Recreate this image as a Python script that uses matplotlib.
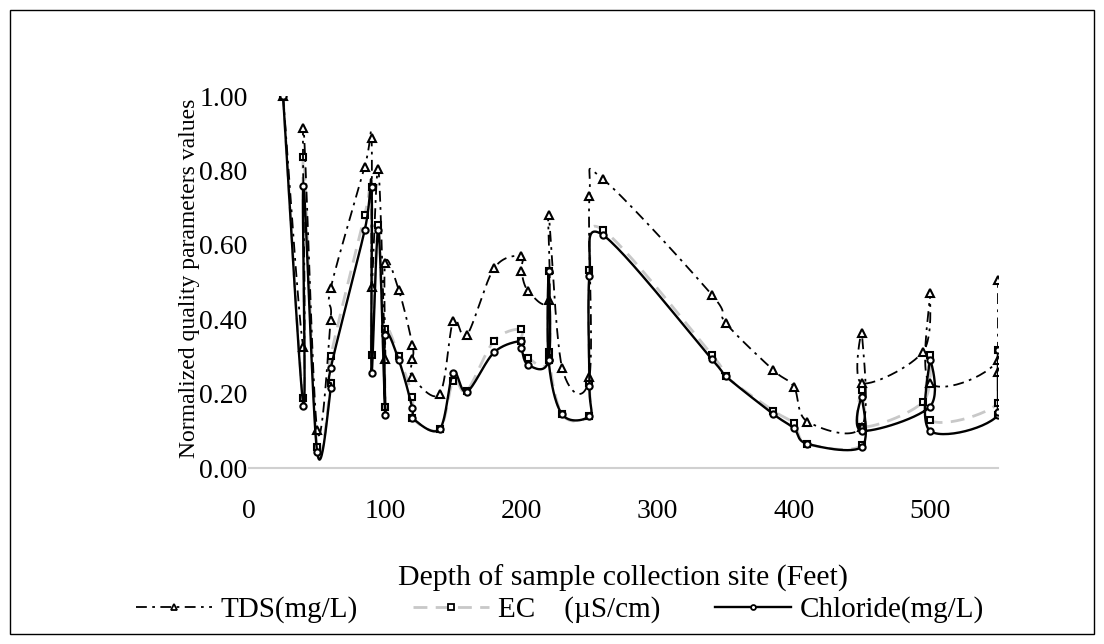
import numpy as np
import matplotlib
matplotlib.use("Agg")
import matplotlib.pyplot as plt
from matplotlib.lines import Line2D
from matplotlib.patches import Rectangle

# ---------------- data ----------------
depth_tds = [25, 40, 40, 50, 60, 60, 85, 90, 90, 95, 100, 100, 110, 120, 120, 120, 140, 150, 160,
             180, 200, 200, 205, 220, 220, 230, 250, 250, 260, 340, 350, 385, 400, 410, 450, 450,
             450, 495, 500, 500, 550, 550, 550]
tds = [1.00, 0.326, 0.915, 0.102, 0.398, 0.483, 0.81, 0.886, 0.487, 0.803, 0.292, 0.552, 0.478,
       0.331, 0.292, 0.245, 0.199, 0.396, 0.357, 0.537, 0.57, 0.53, 0.476, 0.452, 0.68, 0.268,
       0.245, 0.73, 0.776, 0.465, 0.39, 0.263, 0.219, 0.125, 0.111, 0.364, 0.228, 0.313, 0.47,
       0.228, 0.29, 0.505, 0.259]

depth_ec = [25, 40, 40, 50, 60, 60, 85, 90, 90, 95, 100, 100, 110, 120, 120, 140, 150, 160, 180,
            200, 200, 205, 220, 220, 220, 230, 250, 250, 250, 260, 340, 350, 385, 400, 410, 450,
            450, 450, 495, 500, 500, 550, 550, 550]
ec = [1.00, 0.187, 0.837, 0.057, 0.229, 0.30, 0.68, 0.755, 0.304, 0.653, 0.165, 0.375, 0.30,
      0.19, 0.134, 0.104, 0.235, 0.208, 0.342, 0.374, 0.342, 0.297, 0.29, 0.53, 0.313, 0.144,
      0.14, 0.228, 0.532, 0.64, 0.304, 0.247, 0.154, 0.12, 0.065, 0.062, 0.21, 0.111, 0.178,
      0.304, 0.129, 0.174, 0.317, 0.142]

depth_cl = [25, 40, 40, 50, 60, 60, 85, 90, 90, 95, 100, 100, 110, 120, 120, 140, 150, 160, 180,
            200, 200, 205, 220, 220, 220, 230, 250, 250, 250, 260, 340, 350, 385, 400, 410, 450,
            450, 450, 500, 500, 500, 550, 550, 550]
cl = [1.00, 0.167, 0.759, 0.044, 0.214, 0.268, 0.64, 0.756, 0.256, 0.64, 0.142, 0.358, 0.29,
      0.16, 0.134, 0.104, 0.255, 0.205, 0.311, 0.342, 0.323, 0.277, 0.29, 0.53, 0.29, 0.144,
      0.14, 0.22, 0.516, 0.626, 0.292, 0.247, 0.145, 0.107, 0.065, 0.057, 0.19, 0.10, 0.165,
      0.29, 0.10, 0.142, 0.317, 0.15]

x_ticks = [0, 100, 200, 300, 400, 500]
y_ticks = [0.0, 0.2, 0.4, 0.6, 0.8, 1.0]
labels = ["TDS(mg/L)", "EC    (\u00b5S/cm)", "Chloride(mg/L)"]


def smooth(xs, ys, n=30):
    """Excel-like smoothed line (uniform Catmull-Rom as cubic Bezier)."""
    P = np.column_stack([xs, ys]).astype(float)
    m = len(P)
    out = []
    t = np.linspace(0, 1, n)[:, None]
    for i in range(m - 1):
        p0 = P[i - 1] if i > 0 else P[i]
        p1, p2 = P[i], P[i + 1]
        p3 = P[i + 2] if i + 2 < m else P[i + 1]
        c1 = p1 + (p2 - p0) / 6.0
        c2 = p2 - (p3 - p1) / 6.0
        seg = ((1 - t) ** 3) * p1 + 3 * ((1 - t) ** 2) * t * c1 + 3 * (1 - t) * t ** 2 * c2 + t ** 3 * p2
        out.append(seg if i == 0 else seg[1:])
    s = np.vstack(out)
    return s[:, 0], s[:, 1]


W, H = 1104, 644
fig = plt.figure(figsize=(W / 100, H / 100), dpi=100)
plt.rcParams['font.family'] = ['Liberation Serif', 'DejaVu Serif']

ax = fig.add_axes([249 / W, 1 - 468 / H, (998 - 249) / W, (468 - 96) / H])

tds_style = dict(color='black', lw=1.3, ls=(0, (6, 3, 1.5, 3)))
ec_style = dict(color='#c8c8c8', lw=2.0, ls=(0, (5, 3)))
cl_style = dict(color='black', lw=1.7, ls='-')

mk = dict(ls='none', mfc='white', mec='black', mew=1.5)

sx, sy = smooth(depth_ec, ec)
ax.plot(sx, sy, **ec_style, zorder=2)
ax.plot(depth_ec, ec, marker='s', ms=5, **mk, zorder=3)

sx, sy = smooth(depth_tds, tds)
ax.plot(sx, sy, **tds_style, zorder=4)
ax.plot(depth_tds, tds, marker='^', ms=5.5, **mk, zorder=5)

sx, sy = smooth(depth_cl, cl)
ax.plot(sx, sy, **cl_style, zorder=6)
ax.plot(depth_cl, cl, marker='o', ms=4.5, **mk, zorder=7)

ax.set_xlim(0, 550)
ax.set_ylim(0, 1.0)
ax.set_xticks(x_ticks)
ax.set_xticklabels([str(v) for v in x_ticks])
ax.set_yticks(y_ticks)
ax.set_yticklabels([f"{v:.2f}" for v in y_ticks])
for side in ['top', 'right', 'left']:
    ax.spines[side].set_visible(False)
ax.spines['bottom'].set_color('#d0d0d0')
ax.spines['bottom'].set_linewidth(1.5)
ax.tick_params(axis='both', length=0, labelsize=20)
ax.tick_params(axis='x', pad=22)
ax.tick_params(axis='y', pad=1)

ax.set_xlabel("Depth of sample collection site (Feet)", fontsize=21.5)
ax.xaxis.set_label_coords(0.5, (468 - 578) / 372)
ax.xaxis.label.set_va('center')
ax.set_ylabel("Normalized quality parameters values", fontsize=17)
ax.yaxis.set_label_coords((190 - 249) / 749, (468 - 278) / 372)
ax.yaxis.label.set_va('center')

handles = [
    Line2D([], [], marker='^', ms=4.5, mfc='white', mec='black', mew=1.3, **tds_style),
    Line2D([], [], marker='s', ms=4, mfc='white', mec='black', mew=1.3, **ec_style),
    Line2D([], [], marker='o', ms=3.5, mfc='white', mec='black', mew=1.3, **cl_style),
]
fig.legend(handles, labels, loc='center', bbox_to_anchor=(560 / W, 1 - 610 / H), ncol=3,
           frameon=False, fontsize=21, handlelength=2.6, handletextpad=0.3, columnspacing=1.9)

fig.add_artist(Rectangle((10 / W, 10 / H), (1094 - 10) / W, (634 - 10) / H,
                         transform=fig.transFigure, fill=False, ec='black', lw=1.0))

fig.savefig("out.png", dpi=100)
